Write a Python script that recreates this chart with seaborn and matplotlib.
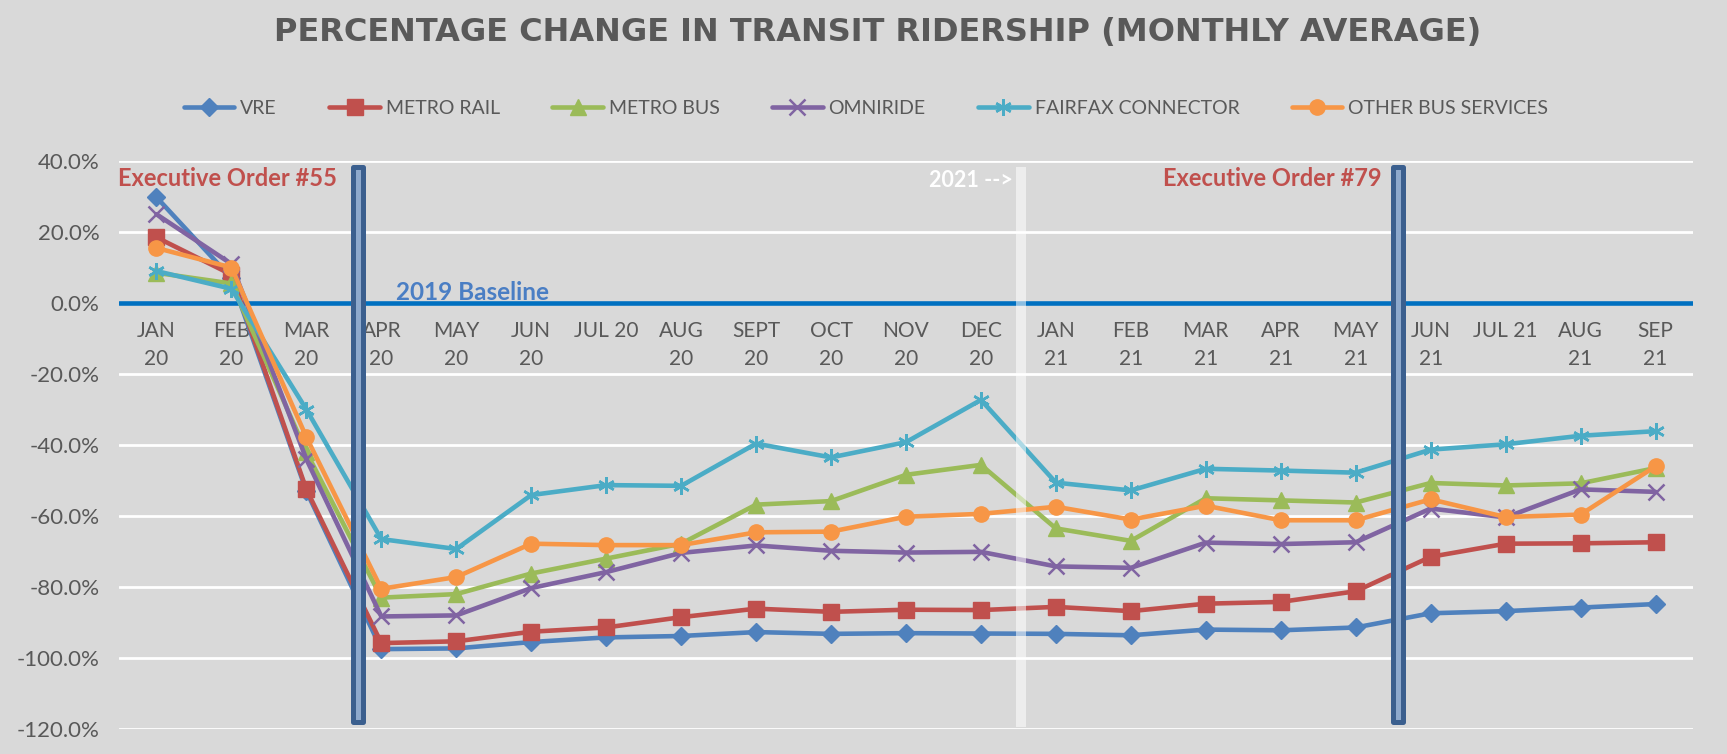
import numpy as np
import pandas as pd
import matplotlib
matplotlib.use("Agg")
import matplotlib.pyplot as plt
import seaborn as sns
from matplotlib.patches import Rectangle
from matplotlib.ticker import FuncFormatter

# ---------------- data ----------------
tick_labels = ["JAN\n20", "FEB\n20", "MAR\n20", "APR\n20", "MAY\n20", "JUN\n20", "JUL 20",
               "AUG\n20", "SEPT\n20", "OCT\n20", "NOV\n20", "DEC\n20", "JAN\n21", "FEB\n21",
               "MAR\n21", "APR\n21", "MAY\n21", "JUN\n21", "JUL 21", "AUG\n21", "SEP\n21"]

series_names = ["VRE", "METRO RAIL", "METRO BUS", "OMNIRIDE", "FAIRFAX CONNECTOR", "OTHER BUS SERVICES"]

vre = [29.8, 7.0, -53.0, -97.5, -97.3, -95.5, -94.2, -93.8, -92.7, -93.2, -93.0, -93.1,
       -93.2, -93.6, -92.0, -92.2, -91.4, -87.4, -86.8, -85.8, -84.8]
metro_rail = [18.5, 8.0, -52.5, -95.8, -95.3, -92.6, -91.4, -88.5, -86.1, -87.0, -86.4, -86.5,
              -85.6, -86.8, -84.7, -84.2, -81.2, -71.5, -67.8, -67.7, -67.4]
metro_bus = [8.5, 5.5, -42.0, -83.0, -82.0, -76.2, -72.0, -67.8, -56.8, -55.8, -48.4, -45.6,
             -63.5, -67.0, -55.0, -55.6, -56.2, -50.7, -51.4, -50.8, -46.5]
omniride = [25.0, 11.0, -44.0, -88.3, -88.0, -80.3, -75.8, -70.4, -68.3, -69.8, -70.3, -70.1,
            -74.2, -74.6, -67.5, -67.9, -67.4, -57.9, -60.4, -52.5, -53.2]
fairfax = [9.0, 4.0, -30.0, -66.5, -69.3, -54.1, -51.3, -51.5, -39.6, -43.5, -39.2, -27.3,
           -50.6, -52.8, -46.7, -47.2, -47.8, -41.3, -39.8, -37.4, -36.1]
other_bus = [15.5, 10.0, -37.8, -80.5, -77.2, -67.8, -68.2, -68.2, -64.6, -64.4, -60.2, -59.4,
             -57.4, -61.0, -57.1, -61.2, -61.2, -55.3, -60.3, -59.6, -46.0]

y_ticks = [-120, -100, -80, -60, -40, -20, 0, 20, 40]

# event markers (category positions)
eo55_pos = 2.69
eo79_pos = 16.57
year_pos = 11.536

# ---------------- style ----------------
BG = "#D9D9D9"
TXT = "#595959"
sns.set_style("whitegrid", {"axes.facecolor": BG, "figure.facecolor": BG,
                            "grid.color": "white"})
plt.rcParams["font.family"] = ["Lato", "DejaVu Sans"]

colors = ["#4F81BD", "#C0504D", "#9BBB59", "#8064A2", "#4BACC6", "#F79646"]
markers = ["D", "s", "^", "x", (6, 2, 0), "o"]
msizes = [9, 11, 11, 11, 12, 11]
all_vals = [vre, metro_rail, metro_bus, omniride, fairfax, other_bus]

fig = plt.figure(figsize=(17.27, 7.54), dpi=100)
fig.patch.set_facecolor(BG)
ax = fig.add_axes([119 / 1727, 1 - 729 / 754, (1693 - 119) / 1727, (729 - 161) / 754])
ax.set_facecolor(BG)

x = np.arange(len(tick_labels))
for name, vals, c, m, ms in zip(series_names, all_vals, colors, markers, msizes):
    df = pd.DataFrame({"x": x, "y": vals})
    sns.lineplot(data=df, x="x", y="y", ax=ax, color=c, marker=m, markersize=ms,
                 linewidth=3.3, markeredgecolor=c,
                 markeredgewidth=1.8 if m in ("x", (6, 2, 0)) else 1,
                 label=name, zorder=3)

# baseline
ax.axhline(0, color="#0070C0", lw=3.3, zorder=2)

# spine position first (it resets ticks), then tick styling
ax.spines["bottom"].set_position(("data", 0))
for s in ax.spines.values():
    s.set_visible(False)

ax.set_xlim(-0.5, len(tick_labels) - 0.5)
ax.set_ylim(-120, 40)
ax.set_yticks(y_ticks)
ax.yaxis.set_major_formatter(FuncFormatter(lambda v, p: f"{v:.1f}%"))
ax.set_xticks(x)
ax.set_xticklabels(tick_labels, linespacing=1.5)
ax.tick_params(axis="x", length=0, pad=13, labelsize=15, labelcolor=TXT)
ax.tick_params(axis="y", length=0, pad=14, labelsize=16, labelcolor=TXT)
ax.grid(axis="x", visible=False)
ax.grid(axis="y", color="white", lw=2)
ax.set_xlabel("")
ax.set_ylabel("")

# vertical event bars
for pos in (eo55_pos, eo79_pos):
    ax.add_patch(Rectangle((pos - 0.0667, -117.9), 0.133, 117.9 + 38.45,
                           facecolor="#8EA9CC", edgecolor="#3B5F8E", lw=3.6,
                           joinstyle="round", zorder=5))
ax.add_patch(Rectangle((year_pos - 0.0667, -119.4), 0.133, 119.4 + 38.4,
                       facecolor="white", alpha=0.55, lw=0, zorder=5))

# annotations
ax.text(-0.51, 35.2, "Executive Order #55", color="#C0504D", fontsize=17, fontweight="bold",
        ha="left", va="center", zorder=6)
ax.text(16.35, 35.2, "Executive Order #79", color="#C0504D", fontsize=17, fontweight="bold",
        ha="right", va="center", zorder=6)
ax.text(11.42, 34.6, "2021 -->", color="white", fontsize=15.5, fontweight="bold",
        ha="right", va="center", zorder=6)
ax.text(3.19, 0.9, "2019 Baseline", color="#4A7EC4", fontsize=17.5, fontweight="bold",
        ha="left", va="baseline", zorder=6)

# title
fig.text(878 / 1727, 1 - 33 / 754, "PERCENTAGE CHANGE IN TRANSIT RIDERSHIP (MONTHLY AVERAGE)",
         ha="center", va="center", fontsize=23, fontweight="bold", color=TXT,
         family=["DejaVu Sans"])

# legend
ax.get_legend().remove()
handles, labels = ax.get_legend_handles_labels()
leg = fig.legend(handles, labels, loc="center", bbox_to_anchor=(866 / 1727, 1 - 108 / 754),
                 ncol=6, frameon=False, fontsize=14, handlelength=2.6, columnspacing=2.7,
                 handletextpad=0.3, numpoints=1)
for t in leg.get_texts():
    t.set_color(TXT)

fig.savefig("out.png", dpi=100, facecolor=BG)
